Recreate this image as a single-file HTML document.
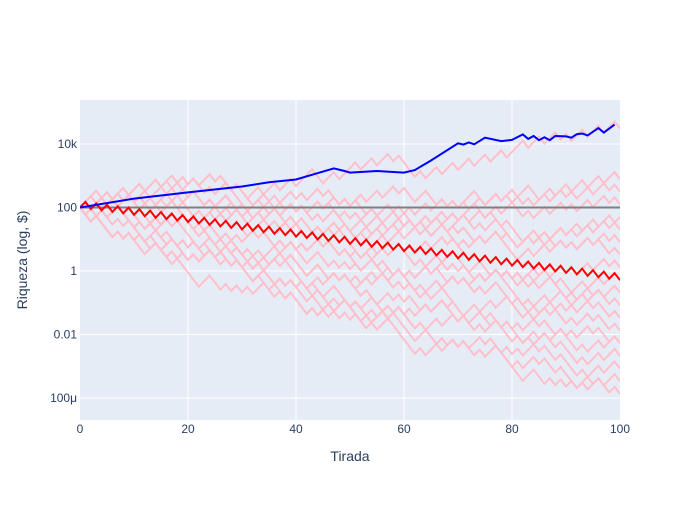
<!DOCTYPE html>
<html><head><meta charset="utf-8"><style>
body{margin:0;background:#fff}
svg{font-family:"Liberation Sans",Arial,sans-serif}
</style></head><body>
<svg id="c" width="700" height="500" xmlns="http://www.w3.org/2000/svg">
<defs><clipPath id="clip"><rect x="80" y="100" width="540" height="320"/></clipPath></defs>
<rect x="0" y="0" width="700" height="500" fill="#fff"/>
<rect x="80" y="100" width="540" height="320" fill="#e5ecf6"/>
<g id="grid"></g>
<g id="series" clip-path="url(#clip)"></g>
<g id="ticks"></g>
<text x="350" y="461" text-anchor="middle" font-size="14" fill="#2a3f5f">Tirada</text>
<text transform="translate(27,260) rotate(-90)" text-anchor="middle" font-size="14" fill="#2a3f5f">Riqueza (log, $)</text>
</svg>
<script>
const xTicks=[0,20,40,60,80,100];
const yTickVals=[4,2,0,-2,-4];
const yTickLabels=["10k","100","1","0.01","100μ"];
const startWealth=100;
const upFactor=1.5, downFactor=0.6;
const stepBlocks={"2a":"dddudddudd","3a":"ddudddudud","4a":"udduduuddd","4b":"dduuddudud","5a":"uduududdud","5b":"dduduuduud","6a":"uduuduudud","6b":"duuduuduud","7a":"uuduuduudu","7b":"uuudduuduu","8a":"uuuduuuduu"};
const pinkWalks=[
["7a","6a","5a","6b","7b","6a","5b","7a","7a","6b"],
["7b","6a","4a","5b","6a","7a","4b","6a","7b","6b"],
["4a","6a","7a","6b","5a","4a","6a","7b","5b","6a"],
["6b","7a","5a","4b","5a","6a","5b","4a","6b","7a"],
["3a","5a","6a","7a","5b","6b","4a","6a","6b","6a"],
["7a","5a","4a","4b","6a","5b","7b","5a","4b","6a"],
["6a","4a","6b","5a","4b","7a","5a","4a","6b","5a"],
["4b","6a","5a","6b","4a","5b","6a","3a","6b","6a"],
["6a","6b","4a","3a","5a","6a","5b","4b","5a","6b"],
["3a","4a","6a","6b","5a","4b","5b","6a","4a","6b"],
["5a","7a","4a","3a","4b","5a","6a","4a","5b","5a"],
["4a","3a","5a","6a","4b","6b","5a","4a","5b","5a"],
["6a","4a","3a","5b","4b","5a","4a","6b","4a","5a"],
["3a","4b","5a","3a","5b","6a","4a","5a","5b","5a"],
["5a","3a","4a","4b","6a","3a","5b","4a","5a","5b"],
["4a","2a","4b","5a","5b","4a","4b","5a","5a","5b"],
["5a","4a","3a","4b","4a","5b","3a","4a","5a","5b"],
["3a","4a","5a","4b","3a","4a","5b","4a","4b","5a"],
["5a","5b","6a","6b","4a","7a","6a","7b","5b","6a"],
["5a","6a","2a","4a","3a","5b","6a","4b","5a","5b"]
];
const redSteps="ud".repeat(50);
const blueX=[0,10,20,30,35,40,45,47,49,50,55,60,62,65,70,71,72,73,75,78,80,82,83,84,85,86,87,88,90,91,92,93,94,96,97,99];
const blueWealth=[100,190,300,460,620,760,1350,1700,1410,1260,1410,1260,1510,3020,10500,9550,11200,9800,15800,12300,13500,20000,14500,17800,13200,16200,13200,17800,17400,15800,20400,21400,18600,31600,22900,40700];

const X=v=>80+v*5.4;
const Y=L=>271-L*31.75;
const NS="http://www.w3.org/2000/svg";
function mk(tag,attrs,parent){const e=document.createElementNS(NS,tag);for(const k in attrs)e.setAttribute(k,attrs[k]);parent.appendChild(e);return e;}
const grid=document.getElementById('grid'),ticks=document.getElementById('ticks'),series=document.getElementById('series');
xTicks.forEach(t=>{
  if(t>0&&t<100){const g=mk('line',{x1:X(t),x2:X(t),y1:100,y2:420,stroke:'#fff','stroke-width':1},grid);
  
  }
  const l=mk('text',{x:X(t),y:433,'text-anchor':'middle','font-size':12,fill:'#2a3f5f'},ticks);l.textContent=t;
  
  
});
yTickVals.forEach((t,i)=>{
  const g=mk('line',{x1:80,x2:620,y1:Y(t),y2:Y(t),stroke:'#fff','stroke-width':1},grid);
  
  
  const l=mk('text',{x:77,y:Y(t)+4,'text-anchor':'end','font-size':12,fill:'#2a3f5f'},ticks);l.textContent=yTickLabels[i];
  
  
});
function walkPts(s){let w=startWealth;const pts=[[0,w]];for(let i=0;i<s.length;i++){w*=s[i]==='u'?upFactor:downFactor;pts.push([i+1,w]);}return pts;}
function path(pts){return pts.map((p,i)=>(i?'L':'M')+X(p[0]).toFixed(1)+' '+Y(Math.log10(p[1])).toFixed(1)).join(' ');}
pinkWalks.forEach(bl=>{
  const s=bl.map(k=>stepBlocks[k]).join('');
  const p=mk('path',{d:path(walkPts(s)),fill:'none',stroke:'#ffc0cb','stroke-width':2},series);
  
  
});
const h=mk('line',{x1:80,x2:620,y1:Y(Math.log10(startWealth)),y2:Y(Math.log10(startWealth)),stroke:'#808080','stroke-width':2},series);


const r=mk('path',{d:path(walkPts(redSteps)),fill:'none',stroke:'#ff0000','stroke-width':2},series);


const b=mk('path',{d:path(blueX.map((x,i)=>[x,blueWealth[i]])),fill:'none',stroke:'#0000ff','stroke-width':2},series);


</script>
</body></html>
